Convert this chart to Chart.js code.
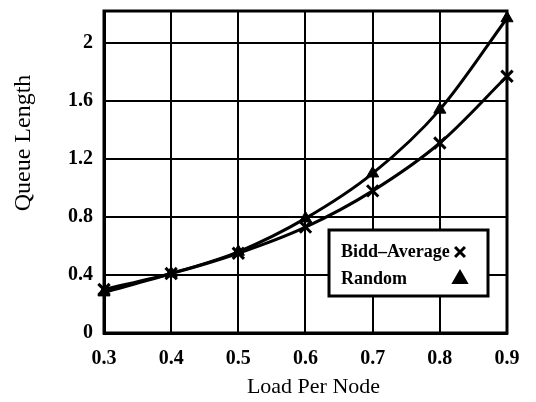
<!DOCTYPE html>
<html>
<head>
<meta charset="utf-8">
<script src="https://cdn.jsdelivr.net/npm/chart.js@4/dist/chart.umd.min.js"></script>
<style>
    html, body { margin: 0; padding: 0; background: #fff; }
    #wrap { width: 536px; height: 402px; position: relative; }
</style>
</head>
<body>
<div id="wrap"><canvas id="canvasCola"></canvas></div>
<script>
var cargas = [0.3, 0.4, 0.5, 0.6, 0.7, 0.8, 0.9];
var colaBiddAverage = [0.30, 0.41, 0.55, 0.73, 0.98, 1.31, 1.77];
var colaRandom = [0.28, 0.41, 0.56, 0.79, 1.10, 1.54, 2.17];
var ticksY = [0, 0.4, 0.8, 1.2, 1.6, 2];
var etiquetas = ["Bidd\u2013Average", "Random"];

var fuente = "'Liberation Serif', 'DejaVu Serif', serif";

function puntos(valores) {
    return cargas.map(function (x, i) { return { x: x, y: valores[i] }; });
}

// titulos de los ejes y marco del area
var pluginEjes = {
    id: 'ejes',
    afterDraw: function (chart) {
        var ctx = chart.ctx;
        var a = chart.chartArea;
        ctx.save();
        ctx.strokeStyle = '#000';
        ctx.lineWidth = 3;
        ctx.strokeRect(a.left, a.top, a.right - a.left, a.bottom - a.top);

        ctx.fillStyle = '#000';
        ctx.font = "22px " + fuente;
        ctx.textAlign = 'center';
        ctx.textBaseline = 'middle';
        ctx.fillText("Load Per Node", (a.left + a.right) / 2 + 8, 387);

        ctx.translate(24, 143);
        ctx.rotate(-Math.PI / 2);
        ctx.font = "24px " + fuente;
        ctx.fillText("Queue Length", 0, 0);
        ctx.restore();
    }
};

// leyenda con recuadro dentro del area
var pluginLeyenda = {
    id: 'leyendaCaja',
    afterDraw: function (chart) {
        var ctx = chart.ctx;
        var a = chart.chartArea;
        var x0 = a.right - 178, y0 = a.bottom - 103, w = 159, h = 66;
        ctx.save();
        ctx.fillStyle = '#fff';
        ctx.fillRect(x0, y0, w, h);
        ctx.strokeStyle = '#000';
        ctx.lineWidth = 3;
        ctx.strokeRect(x0, y0, w, h);
        chart.data.datasets.forEach(function (ds, i) {
            var yy = y0 + 22 + i * 27;
            ctx.fillStyle = '#000';
            ctx.strokeStyle = '#000';
            ctx.lineWidth = 3;
            ctx.font = "bold 18px " + fuente;
            ctx.textAlign = 'left';
            ctx.textBaseline = 'middle';
            ctx.fillText(ds.label, x0 + 12, yy);
            Chart.helpers.drawPoint(ctx, {
                pointStyle: ds.pointStyle,
                radius: 7,
                borderWidth: ds.pointStyle === 'triangle' ? 1 : 3
            }, x0 + 131, yy);
        });
        ctx.restore();
    }
};

var ctx = document.getElementById("canvasCola").getContext("2d");

window.myLine = new Chart(ctx, {
    type: 'line',
    data: {
        datasets: [{
            label: etiquetas[0],
            data: puntos(colaBiddAverage),
            borderColor: '#000',
            backgroundColor: '#000',
            borderWidth: 3,
            cubicInterpolationMode: 'monotone',
            pointStyle: 'crossRot',
            pointRadius: 8,
            pointBorderWidth: 3,
            clip: false
        }, {
            label: etiquetas[1],
            data: puntos(colaRandom),
            borderColor: '#000',
            backgroundColor: '#000',
            borderWidth: 3,
            cubicInterpolationMode: 'monotone',
            pointStyle: 'triangle',
            pointRadius: 7,
            pointBorderWidth: 1,
            clip: false
        }]
    },
    options: {
        responsive: true,
        maintainAspectRatio: false,
        animation: false,
        layout: { padding: { left: 0, right: 29, top: 7, bottom: 0 } },
        plugins: {
            legend: { display: false },
            title: { display: false },
            tooltip: { enabled: false }
        },
        scales: {
            x: {
                type: 'linear',
                min: 0.3,
                max: 0.9,
                afterBuildTicks: function (axis) {
                    axis.ticks = cargas.map(function (v) { return { value: v }; });
                },
                afterFit: function (axis) {
                    axis.height = 69;
                    axis.paddingLeft = 0;
                    axis.paddingRight = 0;
                },
                grid: { color: '#000', lineWidth: 2, drawTicks: false },
                border: { color: '#000', width: 3 },
                ticks: {
                    color: '#000',
                    padding: 14,
                    maxRotation: 0,
                    font: { family: fuente, size: 20, weight: 'bold' },
                    callback: function (v) { return v.toFixed(1); }
                }
            },
            y: {
                type: 'linear',
                min: 0,
                max: 2.22,
                afterBuildTicks: function (axis) {
                    axis.ticks = ticksY.map(function (v) { return { value: v }; });
                },
                afterFit: function (axis) {
                    axis.width = 104;
                    axis.paddingTop = 0;
                    axis.paddingBottom = 0;
                },
                grid: { color: '#000', lineWidth: 2, drawTicks: false },
                border: { color: '#000', width: 3 },
                ticks: {
                    color: '#000',
                    padding: 11,
                    font: { family: fuente, size: 20, weight: 'bold' },
                    callback: function (v) { return String(v); }
                }
            }
        }
    },
    plugins: [pluginEjes, pluginLeyenda]
});
</script>
</body>
</html>
